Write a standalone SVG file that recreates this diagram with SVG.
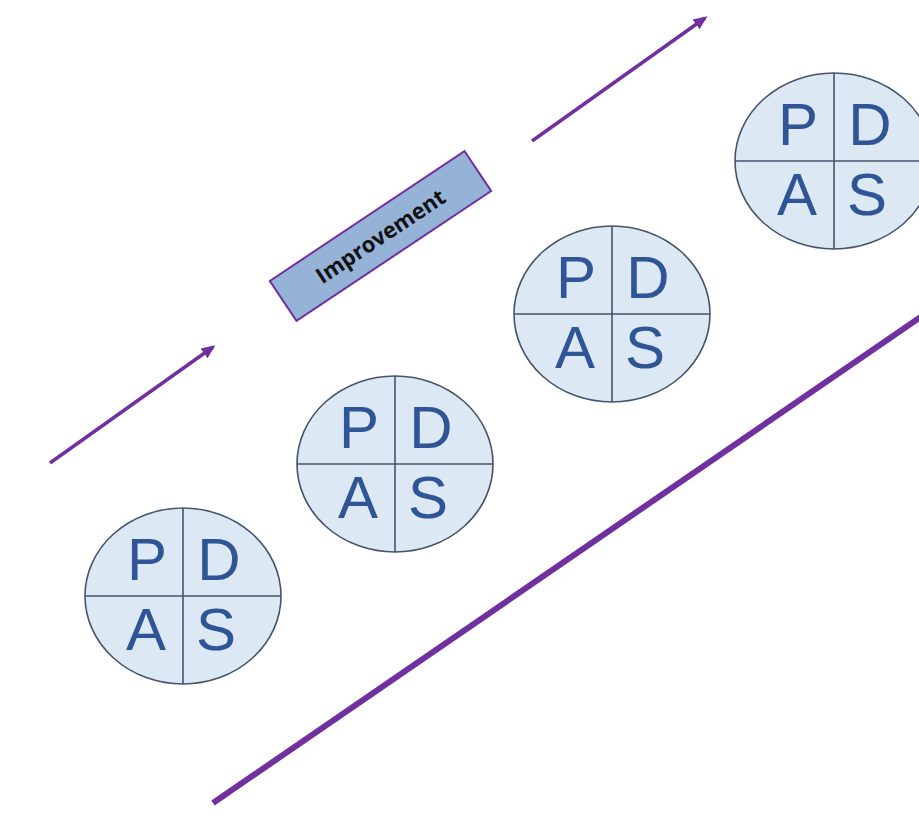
<svg xmlns="http://www.w3.org/2000/svg" width="919" height="816" viewBox="0 0 919 816">
<style>
.bg{fill:#ffffff}
.cyc ellipse{fill:#dde8f5;stroke:#44546a;stroke-width:1.6}
.cyc line{stroke:#44546a;stroke-width:1.6}
.cyc text{font-family:"Liberation Sans","Noto Sans",sans-serif;font-size:60px;fill:#2f5597;text-anchor:middle}
.arr{stroke:#7030a0;stroke-width:3.5;fill:none}
.big{stroke:#7030a0;stroke-width:6;fill:none}
</style>
<defs>
<marker id="ah2" markerWidth="14" markerHeight="14" refX="11" refY="7" orient="auto" markerUnits="userSpaceOnUse" viewBox="0 0 14 14">
<path d="M0,1 L14,7 L0,13 z" fill="#7030a0"/>
</marker>
</defs>
<rect class="bg" width="919" height="816"/>
<g id="connectors">
<line class="arr" x1="50" y1="463" x2="213" y2="347" marker-end="url(#ah2)"/>
<line class="arr" x1="532" y1="141" x2="705" y2="18" marker-end="url(#ah2)"/>
<line class="big" x1="213" y1="803" x2="925" y2="314"/>
</g>
<g id="improvement" transform="translate(380.5,236) rotate(-33.7)">
<rect x="-117" y="-24" width="234" height="48" fill="#95b3d7" stroke="#7030a0" stroke-width="2"/>
<text x="0" y="8" font-family="'Open Sans','Noto Sans',sans-serif" font-weight="bold" font-size="22" fill="#111111" text-anchor="middle">Improvement</text>
</g>
<g id="pdas1" class="cyc" transform="translate(183,596)">
<ellipse cx="0" cy="0" rx="98" ry="88"/>
<line x1="0" y1="-88" x2="0" y2="88"/><line x1="-98" y1="0" x2="98" y2="0"/>
<text x="-36" y="-16">P</text><text x="36" y="-16">D</text>
<text x="-37" y="54">A</text><text x="33" y="54">S</text>
</g>
<g id="pdas2" class="cyc" transform="translate(395,464)">
<ellipse cx="0" cy="0" rx="98" ry="88"/>
<line x1="0" y1="-88" x2="0" y2="88"/><line x1="-98" y1="0" x2="98" y2="0"/>
<text x="-36" y="-16">P</text><text x="36" y="-16">D</text>
<text x="-37" y="54">A</text><text x="33" y="54">S</text>
</g>
<g id="pdas3" class="cyc" transform="translate(612,314)">
<ellipse cx="0" cy="0" rx="98" ry="88"/>
<line x1="0" y1="-88" x2="0" y2="88"/><line x1="-98" y1="0" x2="98" y2="0"/>
<text x="-36" y="-16">P</text><text x="36" y="-16">D</text>
<text x="-37" y="54">A</text><text x="33" y="54">S</text>
</g>
<g id="pdas4" class="cyc" transform="translate(834,161)">
<ellipse cx="0" cy="0" rx="99" ry="88"/>
<line x1="0" y1="-88" x2="0" y2="88"/><line x1="-99" y1="0" x2="99" y2="0"/>
<text x="-36" y="-16">P</text><text x="36" y="-16">D</text>
<text x="-37" y="54">A</text><text x="33" y="54">S</text>
</g>
</svg>
